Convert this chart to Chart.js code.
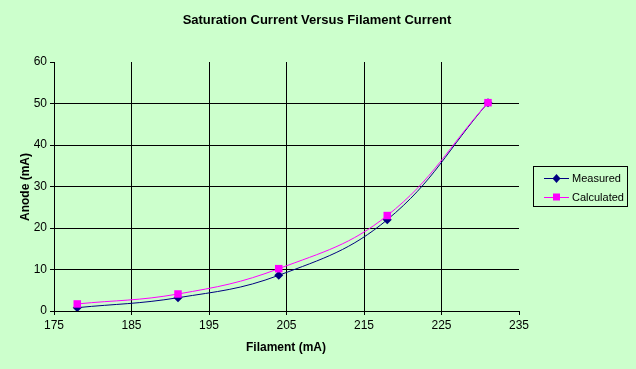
<!DOCTYPE html>
<html>
<head>
<meta charset="utf-8">
<script src="https://cdn.jsdelivr.net/npm/chart.js@4/dist/chart.umd.min.js"></script>
<style>
  html, body { margin: 0; padding: 0; background: #CCFFCC; }
  #wrap { width: 636px; height: 369px; position: relative; }
  canvas { display: block; }
</style>
</head>
<body>
<div id="wrap"><canvas id="c" width="636" height="369"></canvas></div>
<script>
// ---- Data ----
const filament = [178, 191, 204, 218, 231];
const measured = [0.8, 3.2, 8.6, 22.0, 50.2];
const calculated = [1.7, 4.1, 10.2, 23.0, 50.2];
const seriesNames = ['Measured', 'Calculated'];
const chartTitle = 'Saturation Current Versus Filament Current';
const xTitle = 'Filament (mA)';
const yTitle = 'Anode (mA)';

const FONT = '"Liberation Sans", Arial, sans-serif';

const toPts = (xs, ys) => xs.map((x, i) => ({ x: x, y: ys[i] }));

const decorPlugin = {
  id: 'decor',
  afterDraw(chart) {
    const ctx = chart.ctx;
    ctx.save();
    ctx.fillStyle = '#000';
    // Title
    ctx.font = 'bold 13px ' + FONT;
    ctx.textAlign = 'center';
    ctx.textBaseline = 'middle';
    ctx.fillText(chartTitle, 317, 20);
    // Axis titles
    ctx.font = 'bold 12px ' + FONT;
    ctx.fillText(xTitle, 286, 348);
    ctx.save();
    ctx.translate(26, 187);
    ctx.rotate(-Math.PI / 2);
    ctx.fillText(yTitle, 0, 0);
    ctx.restore();
    // Legend
    const lx = 533.5, ly = 166.5, lw = 94, lh = 40;
    ctx.strokeStyle = '#000';
    ctx.lineWidth = 1;
    ctx.strokeRect(lx, ly, lw, lh);
    ctx.font = '11px ' + FONT;
    ctx.textAlign = 'left';
    chart.data.datasets.forEach((ds, i) => {
      const yy = 178 + i * 19;
      ctx.strokeStyle = ds.borderColor;
      ctx.lineWidth = 1;
      ctx.beginPath();
      ctx.moveTo(544, yy + 0.5);
      ctx.lineTo(569, yy + 0.5);
      ctx.stroke();
      ctx.fillStyle = ds.pointBackgroundColor;
      if (ds.pointStyle === 'rect') {
        ctx.fillRect(553, yy - 3.5, 7, 7);
      } else {
        ctx.beginPath();
        ctx.moveTo(556.5, yy - 4);
        ctx.lineTo(560.5, yy + 0.5);
        ctx.lineTo(556.5, yy + 5);
        ctx.lineTo(552.5, yy + 0.5);
        ctx.closePath();
        ctx.fill();
      }
      ctx.fillStyle = '#000';
      ctx.fillText(ds.label, 572, yy + 1);
    });
    ctx.restore();
  }
};

new Chart(document.getElementById('c'), {
  type: 'scatter',
  data: {
    datasets: [
      {
        label: seriesNames[0],
        data: toPts(filament, measured),
        showLine: true,
        tension: 0.4,
        borderColor: '#000080',
        borderWidth: 1,
        pointStyle: 'rectRot',
        pointRadius: 4.5,
        pointBackgroundColor: '#000080',
        pointBorderColor: '#000080',
        pointBorderWidth: 0,
        order: 1
      },
      {
        label: seriesNames[1],
        data: toPts(filament, calculated),
        showLine: true,
        tension: 0.4,
        borderColor: '#FF00FF',
        borderWidth: 1,
        pointStyle: 'rect',
        pointRadius: 5.3,
        pointBackgroundColor: '#FF00FF',
        pointBorderColor: '#FF00FF',
        pointBorderWidth: 0,
        order: 0
      }
    ]
  },
  options: {
    responsive: false,
    animation: false,
    layout: { padding: { top: 62, right: 117, left: 0, bottom: 0 } },
    plugins: {
      legend: { display: false },
      title: { display: false },
      tooltip: { enabled: false }
    },
    scales: {
      x: {
        type: 'linear',
        min: 175, max: 235,
        ticks: { stepSize: 10, color: '#000', font: { family: FONT, size: 12 }, padding: 3, maxRotation: 0 },
        grid: {
          color: c => (c.tick && c.tick.value === 235) ? 'rgba(0,0,0,0)' : '#000',
          tickColor: '#000',
          tickLength: 4,
          lineWidth: 1
        },
        border: { color: '#000', width: 1 },
        afterFit: s => { s.height = 58; }
      },
      y: {
        type: 'linear',
        min: 0, max: 60,
        ticks: { stepSize: 10, color: '#000', font: { family: FONT, size: 12 }, padding: 3 },
        grid: {
          color: c => (c.tick && c.tick.value === 60) ? 'rgba(0,0,0,0)' : '#000',
          tickColor: '#000',
          tickLength: 4,
          lineWidth: 1
        },
        border: { color: '#000', width: 1 },
        afterFit: s => { s.width = 54; }
      }
    }
  },
  plugins: [decorPlugin]
});
</script>
</body>
</html>
